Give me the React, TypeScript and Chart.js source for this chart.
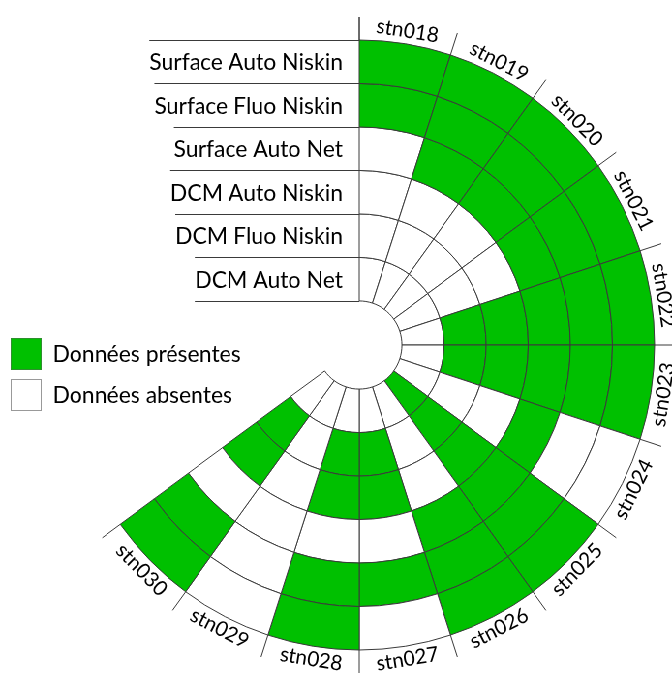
import React, { useEffect, useRef } from 'react';
import Chart from 'chart.js/auto';

const STATIONS = ['stn018', 'stn019', 'stn020', 'stn021', 'stn022', 'stn023', 'stn024', 'stn025', 'stn026', 'stn027', 'stn028', 'stn029', 'stn030'];

// rings, outermost first
const ROWS = ['Surface Auto Niskin', 'Surface Fluo Niskin', 'Surface Auto Net', 'DCM Auto Niskin', 'DCM Fluo Niskin', 'DCM Auto Net'];

// 1 = data present, 0 = absent, one value per station
const SURFACE_AUTO_NISKIN = [1, 1, 1, 1, 1, 1, 0, 1, 1, 0, 1, 0, 1];
const SURFACE_FLUO_NISKIN = [1, 1, 1, 1, 1, 1, 0, 1, 1, 1, 1, 0, 1];
const SURFACE_AUTO_NET = [0, 1, 1, 1, 1, 1, 1, 1, 1, 0, 0, 0, 0];
const DCM_AUTO_NISKIN = [0, 0, 0, 0, 1, 1, 0, 1, 0, 1, 1, 0, 1];
const DCM_FLUO_NISKIN = [0, 0, 0, 0, 1, 1, 0, 1, 0, 1, 1, 0, 1];
const DCM_AUTO_NET = [0, 0, 0, 0, 0, 0, 0, 1, 0, 0, 0, 0, 0];

const PRESENCE = [SURFACE_AUTO_NISKIN, SURFACE_FLUO_NISKIN, SURFACE_AUTO_NET, DCM_AUTO_NISKIN, DCM_FLUO_NISKIN, DCM_AUTO_NET];

const LEGEND = ['Données présentes', 'Données absentes'];

// the circle is cut in 20 equal sectors, the stations take the first 13
const SLOTS = 20;

const GREEN = '#00c000';
const LINE = '#3a3a3a';
const FONT = 'Lato, "Open Sans", sans-serif';

// the figure is a bit narrower than it is tall, so the canvas is squeezed in x
const W = 694;
const H = 673;
const SQUEEZE = 672 / W;

const overlay = {
  id: 'overlay',
  afterDraw(chart: any) {
    const ctx: CanvasRenderingContext2D = chart.ctx;
    const metas = ROWS.map((_, i) => chart.getDatasetMeta(i));
    const arcs = metas[0].data.slice(0, STATIONS.length);
    const { x: cx, y: cy, outerRadius } = arcs[0].getProps(['x', 'y', 'outerRadius'], true);
    const last = metas[metas.length - 1].data[0].getProps(['innerRadius'], true);

    ctx.save();
    ctx.strokeStyle = LINE;
    ctx.lineWidth = 1;

    // sector lines running past the outer ring
    const edges = arcs.map((a: any) => a.getProps(['startAngle'], true).startAngle);
    edges.push(arcs[arcs.length - 1].getProps(['endAngle'], true).endAngle);
    ctx.beginPath();
    edges.forEach((ang: number) => {
      ctx.moveTo(cx + outerRadius * Math.cos(ang), cy + outerRadius * Math.sin(ang));
      ctx.lineTo(cx + (outerRadius + 23) * Math.cos(ang), cy + (outerRadius + 23) * Math.sin(ang));
    });
    ctx.stroke();

    // station names round the outside
    ctx.fillStyle = '#000';
    ctx.font = `21px ${FONT}`;
    ctx.textAlign = 'center';
    ctx.textBaseline = 'middle';
    arcs.forEach((a: any, i: number) => {
      const { startAngle, endAngle } = a.getProps(['startAngle', 'endAngle'], true);
      const mid = (startAngle + endAngle) / 2;
      const r = outerRadius + 13;
      let rot = mid + Math.PI / 2;
      if (rot > Math.PI / 2 + 1e-6) rot -= Math.PI;
      ctx.save();
      ctx.translate(cx + r * Math.cos(mid), cy + r * Math.sin(mid));
      ctx.rotate(rot);
      ctx.fillText(STATIONS[i], 0, 0);
      ctx.restore();
    });

    // ring names on the left with their rules
    ctx.font = `23px ${FONT}`;
    ctx.textAlign = 'right';
    const textRight = cx - 17;
    ctx.beginPath();
    metas.forEach((m: any, i: number) => {
      const { outerRadius: ro, innerRadius: ri } = m.data[0].getProps(['outerRadius', 'innerRadius'], true);
      const w = ctx.measureText(ROWS[i]).width;
      ctx.fillText(ROWS[i], textRight, cy - (ro + ri) / 2 + 1);
      ctx.moveTo(textRight - w, Math.round(cy - ro) + 0.5);
      ctx.lineTo(cx, Math.round(cy - ro) + 0.5);
    });
    const wLast = ctx.measureText(ROWS[ROWS.length - 1]).width;
    ctx.moveTo(textRight - wLast, Math.round(cy - last.innerRadius) + 0.5);
    ctx.lineTo(cx, Math.round(cy - last.innerRadius) + 0.5);
    ctx.moveTo(cx, cy - outerRadius - 23);
    ctx.lineTo(cx, cy - outerRadius);
    ctx.stroke();

    // legend
    const lx = 11.5;
    const ly = [338.5, 379.5];
    ctx.fillStyle = GREEN;
    ctx.fillRect(lx, ly[0], 31, 31);
    ctx.strokeStyle = '#2f8f2f';
    ctx.strokeRect(lx, ly[0], 31, 31);
    ctx.fillStyle = '#fff';
    ctx.fillRect(lx, ly[1], 31, 31);
    ctx.strokeStyle = '#999';
    ctx.strokeRect(lx, ly[1], 31, 31);
    ctx.fillStyle = '#000';
    ctx.textAlign = 'left';
    LEGEND.forEach((t, i) => ctx.fillText(t, 54.5, ly[i] + 16));

    ctx.restore();
  },
};

export default function App() {
  const canvasRef = useRef<HTMLCanvasElement>(null);

  useEffect(() => {
    if (!canvasRef.current) return;
    const empty = SLOTS - STATIONS.length;
    const datasets = ROWS.map((row, i) => ({
      label: row,
      data: [...STATIONS.map(() => 1), ...Array(empty).fill(1)],
      backgroundColor: [...PRESENCE[i].map(v => (v ? GREEN : '#ffffff')), ...Array(empty).fill('rgba(0,0,0,0)')],
      borderColor: LINE,
      borderWidth: [...STATIONS.map(() => 1), ...Array(empty).fill(0)],
    }));

    const chart = new Chart(canvasRef.current, {
      type: 'doughnut',
      data: {
        labels: [...STATIONS, ...Array(empty).fill('')],
        datasets,
      },
      options: {
        responsive: true,
        maintainAspectRatio: false,
        animation: false,
        events: [],
        radius: 305,
        cutout: 44,
        rotation: 0,
        circumference: 360,
        layout: { padding: { left: 66, right: 18, top: 40, bottom: 23 } },
        plugins: {
          legend: { display: false },
          tooltip: { enabled: false },
        },
      } as any,
      plugins: [overlay],
    });

    return () => chart.destroy();
  }, []);

  return (
    <div
      style={{
        position: 'absolute',
        left: 0,
        top: 0,
        width: W,
        height: H,
        background: '#fff',
        transform: `scaleX(${SQUEEZE})`,
        transformOrigin: '0 0',
      }}
    >
      <canvas ref={canvasRef} />
    </div>
  );
}
